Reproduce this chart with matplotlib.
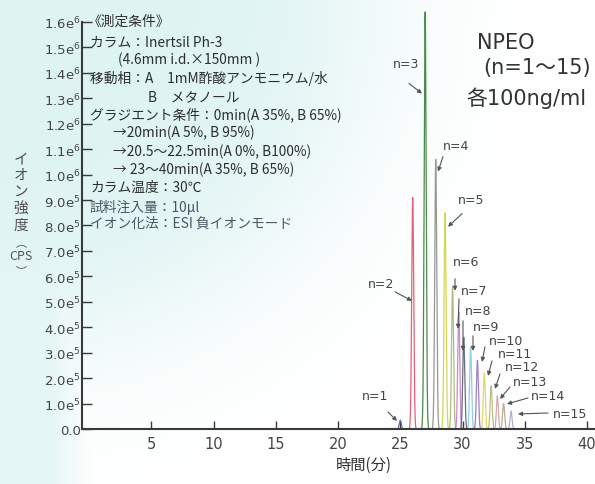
import numpy as np
import matplotlib
matplotlib.use("Agg")
import matplotlib.pyplot as plt

plt.rcParams['font.family'] = ['DejaVu Sans', 'Noto Sans CJK JP']

# ---------------- data ----------------
oligomer_n = list(range(1, 16))
peak_time = [25.0, 26.0, 27.0, 27.85, 28.6, 29.2, 29.7, 30.1, 30.65, 31.2,
             31.75, 32.3, 32.8, 33.3, 33.9]
peak_height = [0.35e5, 9.1e5, 16.4e5, 10.6e5, 8.5e5, 5.6e5, 4.6e5, 3.6e5,
               3.2e5, 2.7e5, 2.2e5, 1.7e5, 1.3e5, 1.0e5, 0.7e5]
peak_color = ['#5a64a8', '#e2506c', '#357f35', '#8c8c8c', '#cdd344', '#a3b472',
              '#c97ac9', '#55626f', '#86c8e0', '#9274c2', '#e0d254', '#b3ba74',
              '#d4a2a2', '#b4a482', '#b2a2cc']

x_ticks = [5, 10, 15, 20, 25, 30, 35, 40]
y_ticks = [k * 1e5 for k in range(17)]

conditions = [
    "《測定条件》",
    "カラム：Inertsil Ph-3",
    "(4.6mm i.d.×150mm )",
    "移動相：A　1mM酢酸アンモニウム/水",
    "B　メタノール",
    "グラジエント条件：0min(A 35%, B 65%)",
    "→20min(A 5%, B 95%)",
    "→20.5～22.5min(A 0%, B100%)",
    "→ 23～40min(A 35%, B 65%)",
    "カラム温度：30℃",
    "試料注入量：10μl",
    "イオン化法：ESI 負イオンモード",
]

# ---------------- layout helpers (pixel -> figure / data) ----------------
W, H = 595, 485
def fx(x): return x / W
def fy(y): return 1 - y / H
def dx(px): return (px - 89) / 12.45
def dy(py): return (430 - py) * 1e5 / 25.4

fig = plt.figure(figsize=(W / 100, H / 100), dpi=100)

# background gradient (light cyan top-left)
yy, xx = np.mgrid[0:H, 0:W].astype(float)
r = np.sqrt((xx / 360) ** 2 + (yy / 340) ** 2)
w1 = 1 / (1 + np.exp((r - 1.0) / 0.13))
w2 = np.clip((95 - xx) / 45, 0, 1) * 0.8
w = np.maximum(w1, w2)[..., None]
cyan = np.array([222, 244, 243]) / 255
img = (1 - w) * np.ones(3) + w * cyan
bg = fig.add_axes([0, 0, 1, 1], zorder=-10)
bg.imshow(img, aspect='auto', extent=[0, 1, 0, 1], origin='upper')
bg.axis('off')

ax = fig.add_axes([82 / W, 1 - 430 / H, (W - 82) / W, (430 - 23) / H])
ax.set_facecolor('none')
ax.set_xlim(dx(82), dx(595))
ax.set_ylim(0, 1.6e6)

for t, h, c in zip(peak_time, peak_height, peak_color):
    tt = np.linspace(t - 0.6, t + 0.6, 300)
    sig = 0.08
    yv = h * np.exp(-0.5 * ((tt - t) / sig) ** 2)
    ax.plot(tt, yv, color=c, lw=0.9, clip_on=False, alpha=0.9)

for s in ['top', 'right']:
    ax.spines[s].set_visible(False)
for s in ['left', 'bottom']:
    ax.spines[s].set_linewidth(1.5)
    ax.spines[s].set_color('#3a3a3a')

ax.set_xticks(x_ticks)
ax.set_xticklabels([str(v) for v in x_ticks])
ax.set_yticks(y_ticks)

def ylab(v):
    k = int(round(v / 1e5))
    if k == 0:
        return "0.0"
    if k < 10:
        return f"{k}.0e$^{{5}}$"
    return f"{k/10:.1f}e$^{{6}}$"

ax.set_yticklabels([ylab(v) for v in y_ticks])
ax.tick_params(axis='x', direction='in', length=6, width=1, colors='#3a3a3a',
               labelsize=10.5, pad=5, labelcolor='#444444')
ax.tick_params(axis='y', direction='in', length=7, width=1, colors='#3a3a3a',
               labelsize=9.5, pad=1, labelcolor='#444444')

# ---------------- texts ----------------
cjk = ['Noto Sans CJK JP', 'DejaVu Sans']
cond_x = [88, 90, 118, 90, 148, 90, 113, 113, 113, 90, 90, 90]
cond_y = [22, 42, 60, 78, 97, 115, 133, 152, 170, 188, 207, 224]
cond_col = ['#2e2e2e'] * 10 + ['#4a5864', '#4a5864']
for s, x, y, c in zip(conditions, cond_x, cond_y, cond_col):
    fig.text(fx(x), fy(y), s, family=cjk, fontsize=9.9, color=c,
             ha='left', va='center')

latin = ['DejaVu Sans', 'Noto Sans CJK JP']
fig.text(fx(477), fy(43), "NPEO", family=latin, fontsize=15,
         color='#333333', ha='left', va='center')
fig.text(fx(483), fy(68), "(n=1～15)", family=latin, fontsize=15,
         color='#333333', ha='left', va='center')
fig.text(fx(466), fy(98), "各100ng/ml", family=latin, fontsize=15,
         color='#333333', ha='left', va='center')

# y label (vertical stacked)
for ch, y in zip("イオン強度", [160, 176, 192, 209, 226]):
    fig.text(fx(21), fy(y), ch, family=cjk, fontsize=10.5, color='#505050',
             ha='center', va='center')
fig.text(fx(21), fy(243), "︵", family=cjk, fontsize=8, color='#555555',
         ha='center', va='center')
fig.text(fx(21), fy(257), "CPS", family=cjk, fontsize=9, color='#555555',
         ha='center', va='center')
fig.text(fx(21), fy(271), "︶", family=cjk, fontsize=8, color='#555555',
         ha='center', va='center')

fig.text(fx(364), fy(465), "時間(分)", family=cjk, fontsize=11, color='#333333',
         ha='center', va='center')

# peak labels with arrows (pixel layout)
lab_xy = [(375, 397), (381, 285), (406, 65), (456, 147), (471, 201), (466, 263),
          (474, 292), (478, 312), (486, 328), (506, 342), (515, 355), (522, 368),
          (530, 383), (548, 397), (570, 415)]
arr_from = [(388, 413), (395, 293), (409, 85), (443, 158), (462, 215), (455, 280),
            (459, 300), (463, 322), (473, 337), (485, 348), (492, 362), (500, 375),
            (510, 388), (528, 399), (548, 414)]
arr_to = [(397, 422), (412, 302), (422, 95), (438, 173), (448, 228), (455, 292),
          (458, 330), (463, 352), (473, 352), (482, 363), (488, 377), (495, 390),
          (500, 400), (507, 405), (518, 415)]
for n, (lx, ly), (ax0, ay0), (ax1, ay1) in zip(oligomer_n, lab_xy, arr_from, arr_to):
    ax.text(dx(lx), dy(ly), f"n={n}", fontsize=9, color='#444444',
            ha='center', va='center', clip_on=False)
    ax.annotate("", xy=(dx(ax1), dy(ay1)), xytext=(dx(ax0), dy(ay0)),
                arrowprops=dict(arrowstyle='-|>', color='#555555', lw=0.8,
                                mutation_scale=6, shrinkA=0, shrinkB=0),
                annotation_clip=False)

fig.savefig("out.png", dpi=100)
